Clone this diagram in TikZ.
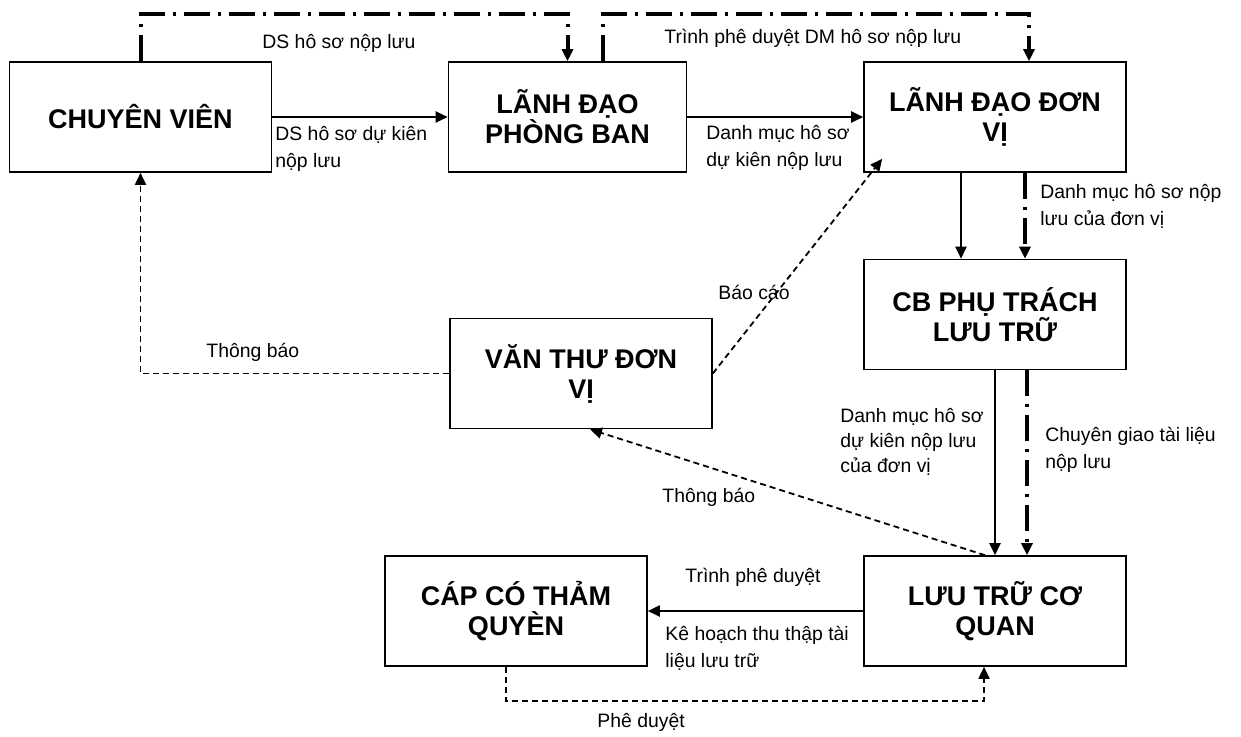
\documentclass[tikz,border=0pt]{standalone}
\usepackage{fontspec}
\setmainfont{Liberation Sans}
\usetikzlibrary{arrows.meta, calc}

\begin{document}
\begin{tikzpicture}[
  x = 0.5pt, y = -0.5pt,
  box/.style = {draw, line width = 0.8pt, minimum width = 131pt, minimum height = 55pt,
                align = center, font = \fontsize{13.5}{15}\selectfont\bfseries},
  lbl/.style = {inner sep = 0pt, align = left, font = \fontsize{9.7}{13.5}\selectfont},
  arr/.style = {-{Triangle[length = 6pt, width = 5.5pt]}, line width = 1pt},
  dsh/.style = {arr, line width = 0.9pt, dash pattern = on 3pt off 2pt},
  chain/.style = {arr, line width = 2pt, dash pattern = on 13pt off 4pt on 1.5pt off 4pt},
  ]
  \useasboundingbox (0,0) rectangle (1241,736);

  % boxes
  \node[box] (cv) at (140.5,117) {CHUYÊN VIÊN};
  \node[box, minimum width = 119pt] (lpb) at (567.5,117) {LÃNH ĐẠO\\PHÒNG BAN};
  \node[box] (ldv) at (995,117) {LÃNH ĐẠO ĐƠN\\VỊ};
  \node[box] (cb) at (995,314.5) {CB PHỤ TRÁCH\\LƯU TRỮ};
  \node[box] (vt) at (581,373.5) {VĂN THƯ ĐƠN\\VỊ};
  \node[box] (cq) at (516,611) {CÁP CÓ THẢM\\QUYÈN};
  \node[box] (lt) at (995,611) {LƯU TRỮ CƠ\\QUAN};

  % top routes
  \draw[chain] (cv.north) -- ++(0,-47) -| (lpb.north);
  \draw[chain] ($(lpb.north)+(35.5,0)$) -- ++(0,-47) -| ($(ldv.north)+(34,0)$);

  % main flow
  \draw[arr] (cv) -- (lpb);
  \draw[arr] (lpb) -- (ldv);
  \draw[arr] ($(ldv.south)+(-34,0)$) -- ($(cb.north)+(-34,0)$);
  \draw[chain] ($(ldv.south)+(30,0)$) -- ($(cb.north)+(30,0)$);
  \draw[arr] (cb) -- (lt);
  \draw[chain] ($(cb.south)+(32,0)$) -- ($(lt.north)+(32,0)$);
  \draw[arr] (lt) -- (cq);

  % notices
  \draw[dsh] (vt.west) -| (cv.south);
  \draw[dsh] (vt.east) -- ($(ldv.south west)+(19,-14)$);
  \draw[dsh] ($(lt.north)+(-10,0)$) -- ($(vt.south)+(9,0)$);
  \draw[dsh] ($(cq.south)+(-10,0)$) -- ++(0,34) -| ($(lt.south)+(-11,0)$);

  % labels
  \node[lbl, anchor = west] (l1) at (262,43) {DS hô sơ nộp lưu};
  \node[lbl, anchor = north west] (l2) at (275,126) {DS hô sơ dự kiên\\nộp lưu};
  \node[lbl, anchor = west] (l3) at (664,38) {Trình phê duyệt DM hô sơ nộp lưu};
  \node[lbl, anchor = north west] (l4) at (706,125) {Danh mục hô sơ\\dự kiên nộp lưu};
  \node[lbl, anchor = north west] (l5) at (1040,184) {Danh mục hô sơ nộp\\lưu của đơn vị};
  \node[lbl, anchor = west] (l6) at (718,292) {Báo cáo};
  \node[lbl, anchor = west] (l7) at (206,352) {Thông báo};
  \node[lbl, anchor = north west, font = \fontsize{9.7}{12.5}\selectfont] (l8) at (840,408)
    {Danh mục hô sơ\\dự kiên nộp lưu\\của đơn vị};
  \node[lbl, anchor = north west] (l9) at (1045,427)
    {Chuyên giao tài liệu\\nộp lưu};
  \node[lbl, anchor = west] (l10) at (662,497) {Thông báo};
  \node[lbl, anchor = west] (l11) at (685,577) {Trình phê duyệt};
  \node[lbl, anchor = north west] (l12) at (665,626) {Kê hoạch thu thập tài\\liệu lưu trữ};
  \node[lbl, anchor = west] (l13) at (597,722) {Phê duyệt};
\end{tikzpicture}
\end{document}
